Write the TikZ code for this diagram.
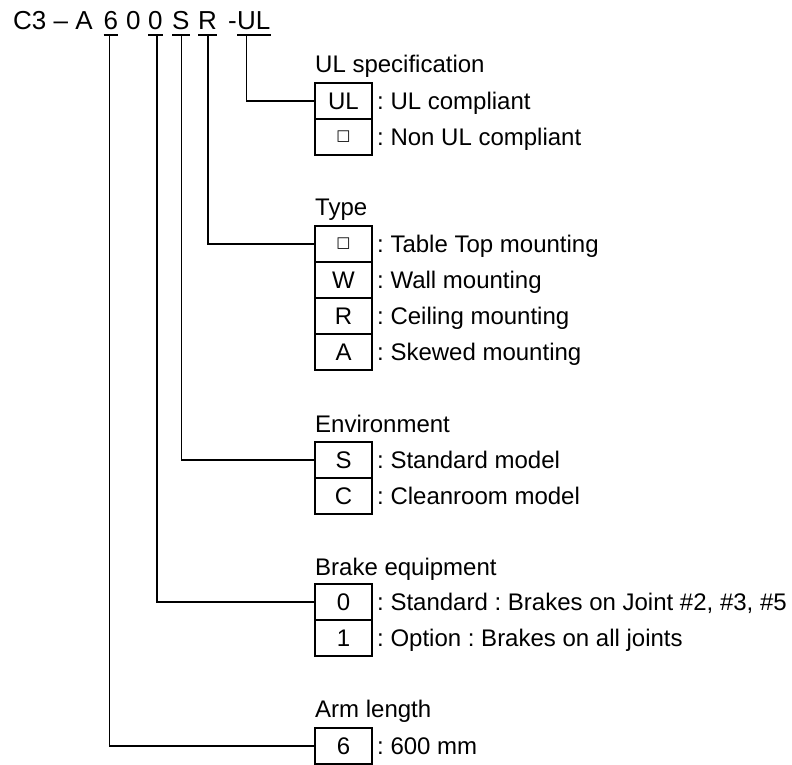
\documentclass[tikz,border=0pt]{standalone}
\usepackage{fontspec}
\setmainfont{Liberation Sans}
\newfontfamily\symfont{DejaVu Sans}
\usetikzlibrary{calc}
\frenchspacing
\newcommand{\bodyfont}{\fontsize{24}{28}\selectfont}
\newcommand{\titlefont}{\fontsize{26}{30}\selectfont}
\newcommand{\sq}{{\symfont\fontsize{15}{18}\selectfont □}}
\tikzset{
  cell/.style={draw, line width=2pt, minimum width=57pt, minimum height=36pt, inner sep=0pt, font=\bodyfont},
  desc/.style={anchor=base west, inner sep=0pt, font=\bodyfont},
  head/.style={anchor=base west, inner sep=0pt, font=\bodyfont},
  ttl/.style={anchor=base west, inner sep=0pt, font=\titlefont},
  conn/.style={line width=1.5pt},
  uline/.style={line width=2.4pt}
}
\begin{document}
\frenchspacing
\begin{tikzpicture}[x=1pt,y=-1pt]
\useasboundingbox (0,0) rectangle (792,765);
% title
\node[ttl] (tA) at (13,30) {C3 – A};
\node[ttl] (t6) at (103.5,30) {6};
\node[ttl] (t0a) at (126,30) {0};
\node[ttl] (t0) at (148,30) {0};
\node[ttl] (tS) at (172,30) {S};
\node[ttl] (tR) at (198,30) {R};
\node[ttl] (th) at (228,30) {-};
\node[ttl] (tUL) at (237,30) {UL};
\foreach \n in {t6,t0,tS,tR,tUL}{
  \draw[uline] ($(\n.base west)+(0,5)$) -- ($(\n.base east)+(0,5)$);
}
\coordinate (c6) at (109.5,36);
\coordinate (c0) at (157,36);
\coordinate (cS) at (181.5,36);
\coordinate (cR) at (208,36);
\coordinate (cUL) at (246.5,36);

% UL specification
\node[head] (hUL) at (315,73) {UL specification};
\node[cell] (ul1) at (343.5,101) {UL};
\node[cell] (ul2) at (343.5,137) {\sq};
\node[desc] (dul1) at (377,109.5) {\frenchspacing : UL compliant};
\node[desc] (dul2) at (377,145.5) {\frenchspacing : Non UL compliant};

% Type
\node[head] (hTy) at (315,215) {Type};
\node[cell] (ty1) at (343.5,244) {\sq};
\node[cell] (ty2) at (343.5,280) {W};
\node[cell] (ty3) at (343.5,316) {R};
\node[cell] (ty4) at (343.5,352) {A};
\node[desc] (dty1) at (377,252.5) {\frenchspacing : Table Top mounting};
\node[desc] (dty2) at (377,288.5) {\frenchspacing : Wall mounting};
\node[desc] (dty3) at (377,324.5) {\frenchspacing : Ceiling mounting};
\node[desc] (dty4) at (377,360.5) {\frenchspacing : Skewed mounting};

% Environment
\node[head] (hEn) at (315,432) {Environment};
\node[cell] (en1) at (343.5,460) {S};
\node[cell] (en2) at (343.5,496) {C};
\node[desc] (den1) at (377,468.5) {\frenchspacing : Standard model};
\node[desc] (den2) at (377,504.5) {\frenchspacing : Cleanroom model};

% Brake equipment
\node[head] (hBr) at (315,575) {Brake equipment};
\node[cell] (br1) at (343.5,602) {0};
\node[cell] (br2) at (343.5,638) {1};
\node[desc] (dbr1) at (377,610.5) {\frenchspacing : Standard : Brakes on Joint \#2, \#3, \#5};
\node[desc] (dbr2) at (377,646.5) {\frenchspacing : Option : Brakes on all joints};

% Arm length
\node[head] (hAr) at (315,717) {Arm length};
\node[cell] (ar1) at (343.5,746) {6};
\node[desc] (dar1) at (377,754.5) {\frenchspacing : 600 mm};

% connectors
\draw[conn] (cUL) |- (ul1.west);
\draw[conn] (cR) |- (ty1.west);
\draw[conn] (cS) |- (en1.west);
\draw[conn] (c0) |- (br1.west);
\draw[conn] (c6) |- (ar1.west);
\end{tikzpicture}
\end{document}
